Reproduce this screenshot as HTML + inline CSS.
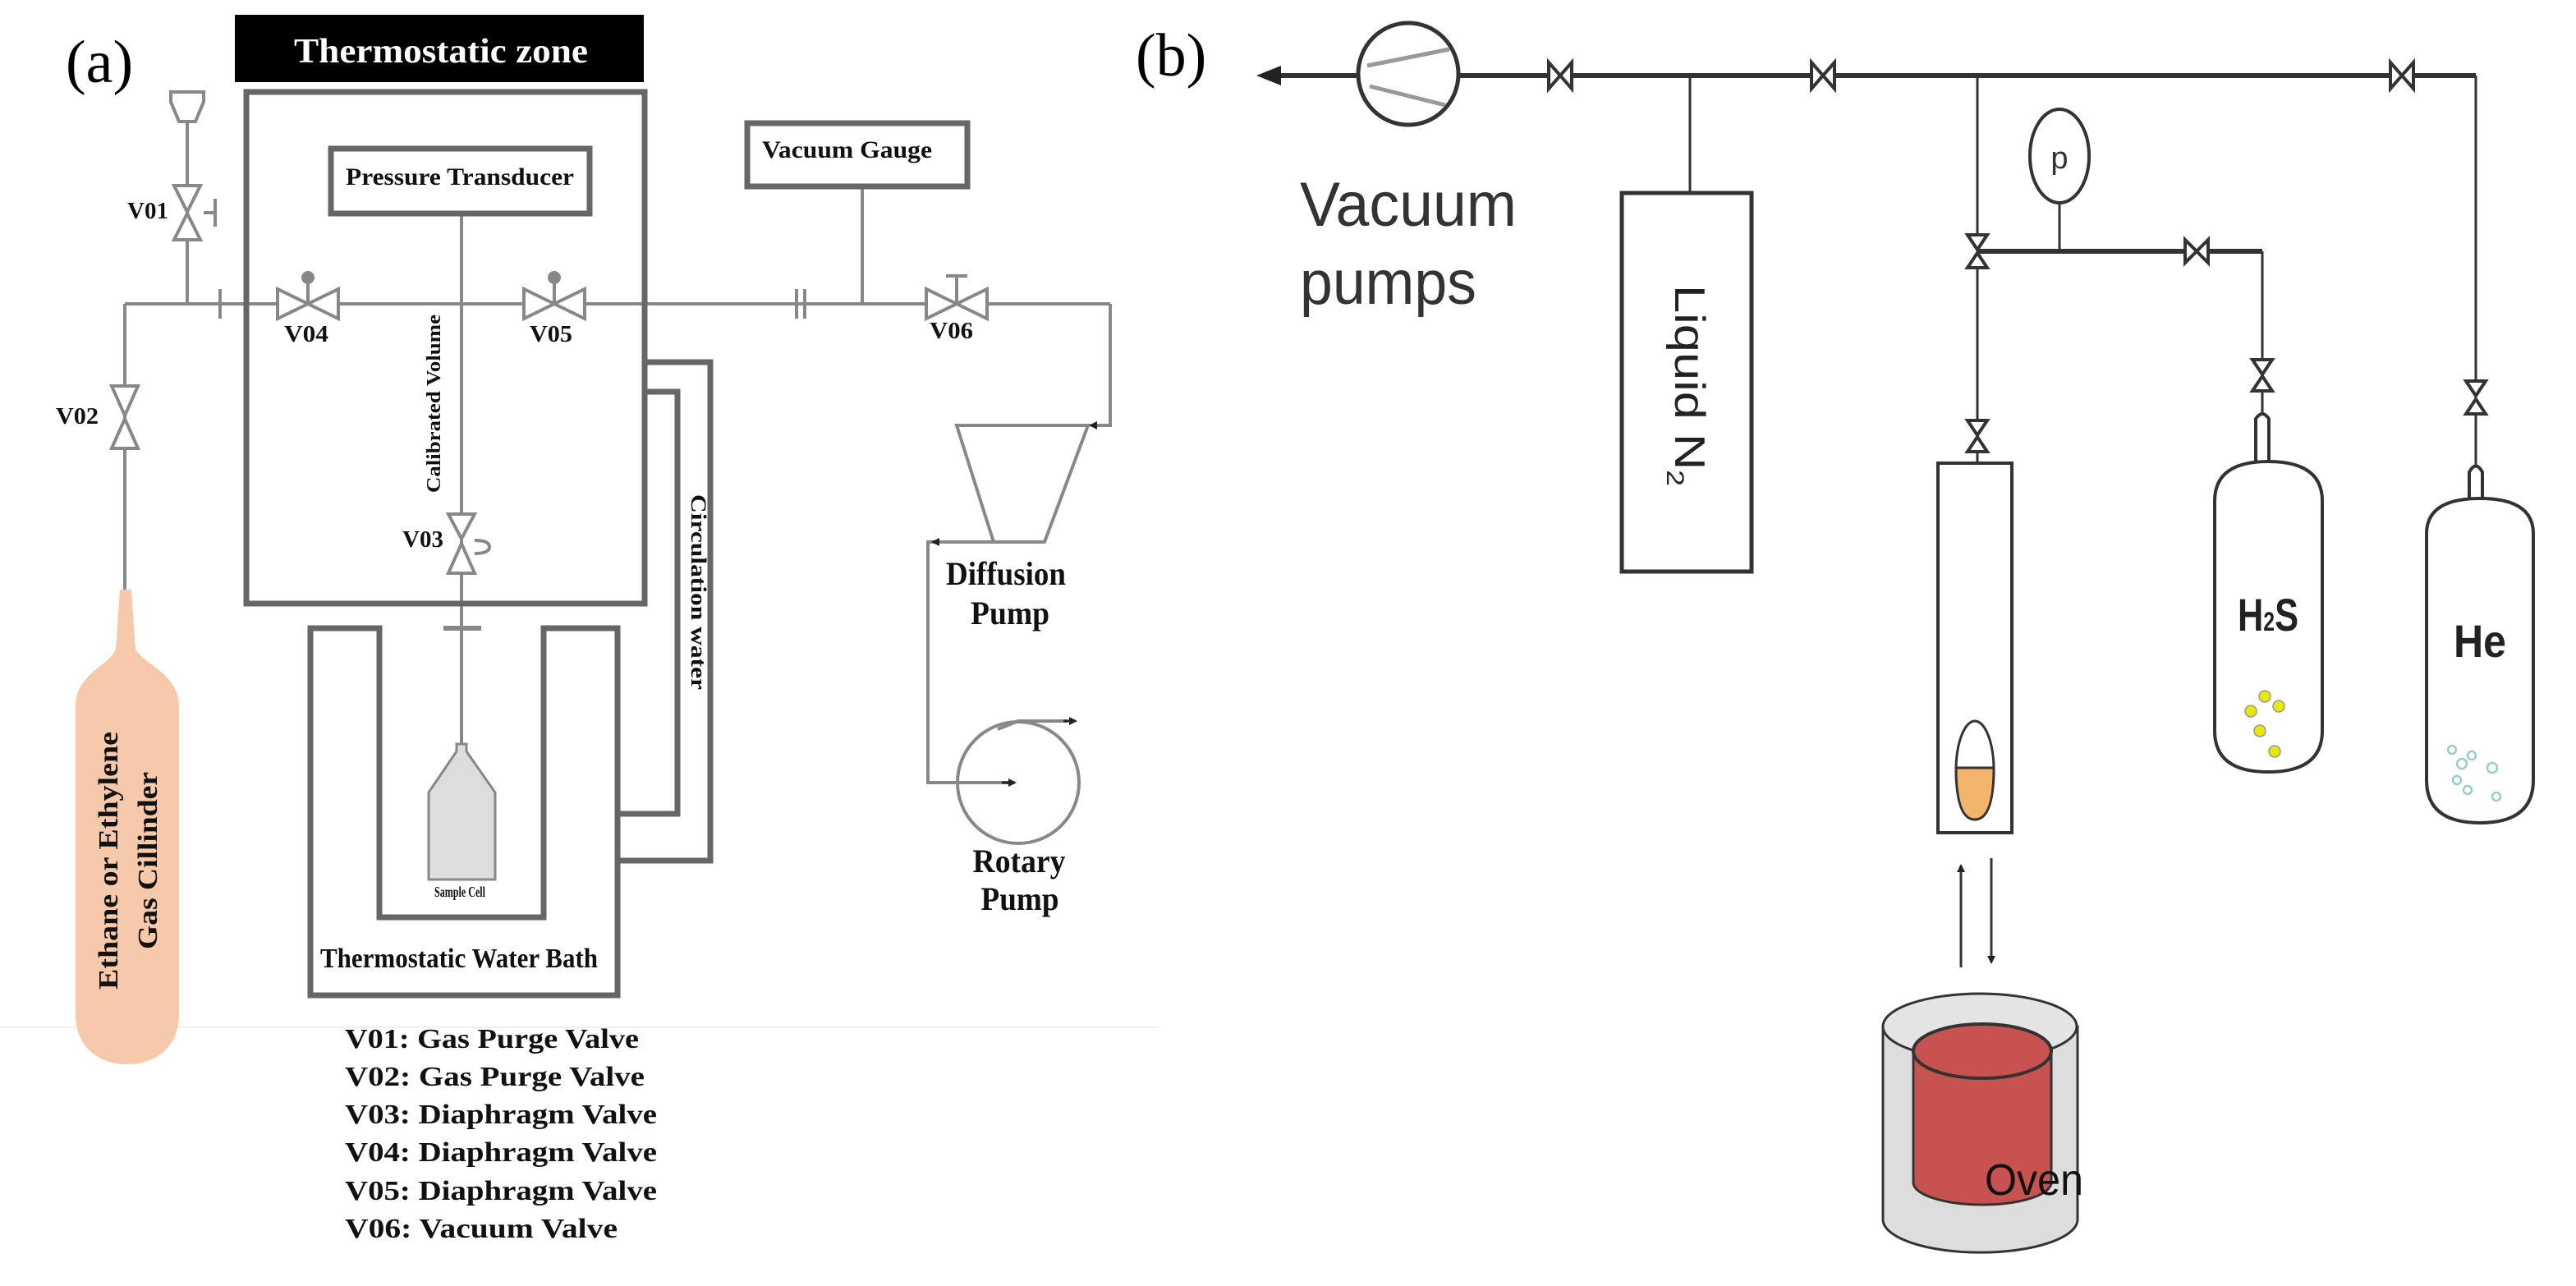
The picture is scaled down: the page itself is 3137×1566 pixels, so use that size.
<!DOCTYPE html>
<html><head><meta charset="utf-8"><style>html,body{margin:0;padding:0;background:#fff}svg{display:block}</style></head>
<body>
<svg width="3137" height="1566" viewBox="0 0 3137 1566" xmlns="http://www.w3.org/2000/svg">
<defs>
<marker id="ah" markerWidth="10" markerHeight="10" refX="8" refY="5" orient="auto" markerUnits="userSpaceOnUse"><path d="M0,0 L10,5 L0,10 z" fill="#222"/></marker>
</defs>
<rect width="3137" height="1566" fill="#fff"/>
<line x1="0" y1="1251" x2="1410" y2="1251" stroke="#f0f0f0" stroke-width="2"/>

<!-- ============ PANEL A ============ -->
<text x="80" y="100" font-family="Liberation Serif,serif" font-size="74">(a)</text>
<rect x="286" y="18" width="498" height="82" fill="#000"/>
<text x="537" y="76" text-anchor="middle" fill="#fff" font-family="Liberation Serif,serif" font-weight="bold" font-size="42" textLength="358" lengthAdjust="spacingAndGlyphs">Thermostatic zone</text>

<g fill="none" stroke="#888" stroke-width="4">
<line x1="152" y1="370" x2="1352" y2="370"/>
<polyline points="1352,370 1352,518 1330,518"/>
<line x1="152" y1="370" x2="152" y2="726"/>
<line x1="228" y1="140" x2="228" y2="370"/>
<line x1="562" y1="260" x2="562" y2="908"/>
<line x1="1050" y1="227" x2="1050" y2="370"/>
<polygon points="1165,518 1325,518 1272,660 1210,660"/>
<polyline points="1210,660 1130,660 1130,953 1228,953"/>
<circle cx="1240" cy="953" r="74"/>
<polyline points="1215,888 1240,878 1300,878"/>
</g>
<line x1="1330" y1="518" x2="1328" y2="518" stroke="#222" stroke-width="3" marker-end="url(#ah)"/>
<line x1="1140" y1="660" x2="1136" y2="660" stroke="#222" stroke-width="3" marker-end="url(#ah)"/>
<line x1="1220" y1="953" x2="1236" y2="953" stroke="#222" stroke-width="3" marker-end="url(#ah)"/>
<line x1="1295" y1="878" x2="1310" y2="878" stroke="#222" stroke-width="3" marker-end="url(#ah)"/>

<g fill="none" stroke="#666" stroke-width="7">
<rect x="300" y="112" width="485" height="623"/>
<rect x="403" y="181" width="315" height="79"/>
<rect x="910" y="150" width="268" height="77"/>
<polygon points="378,765 462,765 462,1117 662,1117 662,765 752,765 752,1212 378,1212"/>
<polyline points="785,441 865,441 865,1048 752,1048"/>
<polyline points="785,477 825,477 825,991 752,991"/>
</g>
<g stroke="#888" stroke-width="4">
<line x1="268" y1="352" x2="268" y2="388"/>
<line x1="970" y1="352" x2="970" y2="388"/><line x1="980" y1="352" x2="980" y2="388"/>
<line x1="540" y1="765" x2="586" y2="765" stroke-width="6"/>
</g>
<g fill="#fff" stroke="#888" stroke-width="4">
<path d="M208,112 L248,112 L248,124 L238,148 L218,148 L208,124 Z"/>
<polygon points="212,226 244,226 228,258"/><polygon points="212,292 244,292 228,260"/>
<polygon points="136,470 168,470 152,506"/><polygon points="136,546 168,546 152,510"/>
<polygon points="546,626 578,626 562,656"/><polygon points="546,698 578,698 562,662"/>
<polygon points="338,352 338,388 375,370"/><polygon points="412,352 412,388 375,370"/>
<polygon points="638,352 638,388 675,370"/><polygon points="712,352 712,388 675,370"/>
<polygon points="1128,352 1128,388 1165,370"/><polygon points="1202,352 1202,388 1165,370"/>
</g>
<g stroke="#888" stroke-width="4" fill="#888">
<line x1="248" y1="259" x2="262" y2="259"/><line x1="262" y1="242" x2="262" y2="276"/>
<line x1="375" y1="370" x2="375" y2="340"/><circle cx="375" cy="338" r="6"/>
<line x1="675" y1="370" x2="675" y2="340"/><circle cx="675" cy="338" r="6"/>
<line x1="1165" y1="370" x2="1165" y2="338"/><line x1="1152" y1="336" x2="1178" y2="336"/>
<path d="M578,658 q18,0 18,8 q0,8 -18,8" fill="none"/>
</g>

<path d="M556,906 L568,906 L568,915 L603,965 L603,1071 L522,1071 L522,965 L556,915 Z" fill="#ddd" stroke="#888" stroke-width="3"/>

<path d="M146,718 L160,718 L165,790 C175,810 218,820 218,860 L218,1235 C218,1275 190,1296 155,1296 C120,1296 92,1275 92,1235 L92,860 C92,820 135,810 141,790 Z" fill="#f6c9aa"/>

<g font-family="Liberation Serif,serif" font-weight="bold" fill="#111">
<text x="560" y="225" text-anchor="middle" font-size="30" textLength="278" lengthAdjust="spacingAndGlyphs">Pressure Transducer</text>
<text x="928" y="192" font-size="30" textLength="207" lengthAdjust="spacingAndGlyphs">Vacuum Gauge</text>
<text x="155" y="266" font-size="28" textLength="50" lengthAdjust="spacingAndGlyphs">V01</text>
<text x="68" y="516" font-size="28" textLength="52" lengthAdjust="spacingAndGlyphs">V02</text>
<text x="490" y="666" font-size="28" textLength="50" lengthAdjust="spacingAndGlyphs">V03</text>
<text x="346" y="416" font-size="28" textLength="54" lengthAdjust="spacingAndGlyphs">V04</text>
<text x="645" y="416" font-size="28" textLength="52" lengthAdjust="spacingAndGlyphs">V05</text>
<text x="1132" y="412" font-size="28" textLength="53" lengthAdjust="spacingAndGlyphs">V06</text>
<text transform="translate(536,600) rotate(-90)" font-size="24" textLength="217" lengthAdjust="spacingAndGlyphs">Calibrated Volume</text>
<text transform="translate(842,602) rotate(90)" font-size="26" textLength="238" lengthAdjust="spacingAndGlyphs">Circulation water</text>
<text x="560" y="1092" text-anchor="middle" font-size="18" textLength="62" lengthAdjust="spacingAndGlyphs">Sample Cell</text>
<text x="390" y="1178" font-size="34" textLength="338" lengthAdjust="spacingAndGlyphs">Thermostatic Water Bath</text>
<text x="1225" y="712" text-anchor="middle" font-size="40" textLength="146" lengthAdjust="spacingAndGlyphs">Diffusion</text>
<text x="1230" y="760" text-anchor="middle" font-size="40" textLength="96" lengthAdjust="spacingAndGlyphs">Pump</text>
<text x="1241" y="1062" text-anchor="middle" font-size="40" textLength="113" lengthAdjust="spacingAndGlyphs">Rotary</text>
<text x="1242" y="1108" text-anchor="middle" font-size="40" textLength="95" lengthAdjust="spacingAndGlyphs">Pump</text>
<text transform="translate(143,1205) rotate(-90)" font-size="34" textLength="314" lengthAdjust="spacingAndGlyphs">Ethane or Ethylene</text>
<text transform="translate(191,1156) rotate(-90)" font-size="34" textLength="216" lengthAdjust="spacingAndGlyphs">Gas Cillinder</text>
<g font-size="34">
<text x="420" y="1276" textLength="358" lengthAdjust="spacingAndGlyphs">V01: Gas Purge Valve</text>
<text x="420" y="1322" textLength="365" lengthAdjust="spacingAndGlyphs">V02: Gas Purge Valve</text>
<text x="420" y="1368" textLength="380" lengthAdjust="spacingAndGlyphs">V03: Diaphragm Valve</text>
<text x="420" y="1414" textLength="380" lengthAdjust="spacingAndGlyphs">V04: Diaphragm Valve</text>
<text x="420" y="1461" textLength="380" lengthAdjust="spacingAndGlyphs">V05: Diaphragm Valve</text>
<text x="420" y="1507" textLength="332" lengthAdjust="spacingAndGlyphs">V06: Vacuum Valve</text>
</g>
</g>

<!-- ============ PANEL B ============ -->
<text x="1383" y="92" font-family="Liberation Serif,serif" font-size="74">(b)</text>
<line x1="1545" y1="92" x2="3015" y2="92" stroke="#333" stroke-width="6"/>
<path d="M1530,92 L1560,80 L1560,104 Z" fill="#222"/>
<g fill="none" stroke="#333" stroke-width="3">
<line x1="3015" y1="92" x2="3015" y2="610"/>
<line x1="2058" y1="92" x2="2058" y2="235"/>
<line x1="2408" y1="92" x2="2408" y2="564"/>
<line x1="2408" y1="306" x2="2755" y2="306" stroke-width="6"/>
<line x1="2755" y1="306" x2="2755" y2="562"/>
<line x1="2508" y1="306" x2="2508" y2="247"/>
<ellipse cx="2508" cy="190" rx="36" ry="57" stroke-width="4"/>
<rect x="1975" y="235" width="158" height="461" stroke-width="5"/>
<rect x="2360" y="564" width="90" height="450" stroke-width="4"/>
</g>
<ellipse cx="1715" cy="90" rx="61" ry="62" fill="#fff" stroke="#333" stroke-width="5"/>
<g stroke="#999" stroke-width="5"><line x1="1665" y1="80" x2="1765" y2="60"/><line x1="1668" y1="105" x2="1760" y2="128"/></g>
<text x="2508" y="205" text-anchor="middle" font-family="Liberation Sans,sans-serif" font-size="38" fill="#333">p</text>
<g fill="#fff" stroke="#333" stroke-width="4">
<polygon points="1886,76 1886,108 1900,92"/><polygon points="1914,76 1914,108 1900,92"/>
<polygon points="2206,76 2206,108 2220,92"/><polygon points="2234,76 2234,108 2220,92"/>
<polygon points="2911,76 2911,108 2925,92"/><polygon points="2939,76 2939,108 2925,92"/>
<polygon points="2661,292 2661,320 2675,306"/><polygon points="2689,292 2689,320 2675,306"/>
<polygon points="2396,286 2420,286 2408,304"/><polygon points="2396,326 2420,326 2408,308"/>
<polygon points="2396,512 2420,512 2408,530"/><polygon points="2396,550 2420,550 2408,532"/>
<polygon points="2743,438 2767,438 2755,456"/><polygon points="2743,476 2767,476 2755,458"/>
<polygon points="3003,464 3027,464 3015,482"/><polygon points="3003,504 3027,504 3015,486"/>
</g>
<!-- cylinders -->
<g fill="#fff" stroke="#333" stroke-width="4">
<path d="M2747,562 L2747,510 Q2755,498 2763,510 L2763,562"/>
<path d="M2697,610 Q2697,562 2762,562 Q2828,562 2828,610 L2828,890 Q2828,940 2762,940 Q2697,940 2697,890 Z"/>
<path d="M3007,607 L3007,575 Q3015,560 3023,575 L3023,607"/>
<path d="M2955,650 Q2955,607 3020,607 Q3085,607 3085,650 L3085,950 Q3085,1002 3020,1002 Q2955,1002 2955,950 Z"/>
</g>
<g fill="#e8e800" stroke="#999" stroke-width="1.5">
<circle cx="2758" cy="848" r="7"/><circle cx="2775" cy="860" r="7"/><circle cx="2741" cy="866" r="7"/><circle cx="2752" cy="890" r="7"/><circle cx="2770" cy="915" r="7"/>
</g>
<g fill="none" stroke="#9cc" stroke-width="2.5">
<circle cx="2986" cy="913" r="5"/><circle cx="2998" cy="930" r="6"/><circle cx="3010" cy="920" r="5"/><circle cx="3035" cy="935" r="6"/><circle cx="2992" cy="950" r="5"/><circle cx="3005" cy="962" r="5"/><circle cx="3040" cy="970" r="5"/>
</g>
<g font-family="Liberation Sans,sans-serif" fill="#222">
<text x="1583" y="275" font-size="76" fill="#333" textLength="264" lengthAdjust="spacingAndGlyphs">Vacuum</text>
<text x="1583" y="370" font-size="76" fill="#333" textLength="215" lengthAdjust="spacingAndGlyphs">pumps</text>
<text transform="translate(2040,347) rotate(90)" font-size="52" textLength="245" lengthAdjust="spacingAndGlyphs">Liquid N<tspan font-size="30" dy="10">2</tspan></text>
<text x="2762" y="768" text-anchor="middle" font-size="56" font-weight="bold" textLength="74" lengthAdjust="spacingAndGlyphs">H<tspan font-size="32">2</tspan>S</text>
<text x="3020" y="800" text-anchor="middle" font-size="56" font-weight="bold" textLength="64" lengthAdjust="spacingAndGlyphs">He</text>
</g>
<ellipse cx="2405" cy="938" rx="23" ry="60" fill="#fff" stroke="#333" stroke-width="3"/>
<path d="M2382,935 L2428,935 Q2428,998 2405,998 Q2382,998 2382,935 Z" fill="#f2b56b" stroke="#333" stroke-width="3"/>
<line x1="2388" y1="1178" x2="2388" y2="1054" stroke="#333" stroke-width="3" marker-end="url(#ah)"/>
<line x1="2425" y1="1045" x2="2425" y2="1172" stroke="#333" stroke-width="3" marker-end="url(#ah)"/>
<!-- oven -->
<path d="M2293,1250 L2293,1485 A118,40 0 0 0 2530,1485 L2530,1250 Z" fill="#ddd" stroke="#333" stroke-width="3"/>
<ellipse cx="2411" cy="1250" rx="118" ry="40" fill="#e4e4e4" stroke="#333" stroke-width="3"/>
<path d="M2330,1280 L2330,1440 A84,27 0 0 0 2498,1440 L2498,1280 Z" fill="#c8524f" stroke="#333" stroke-width="3"/>
<ellipse cx="2414" cy="1280" rx="84" ry="33" fill="#c8524f" stroke="#333" stroke-width="4"/>
<text x="2417" y="1455" font-family="Liberation Sans,sans-serif" font-size="54" fill="#111" textLength="120" lengthAdjust="spacingAndGlyphs">Oven</text>
</svg>
</body></html>
